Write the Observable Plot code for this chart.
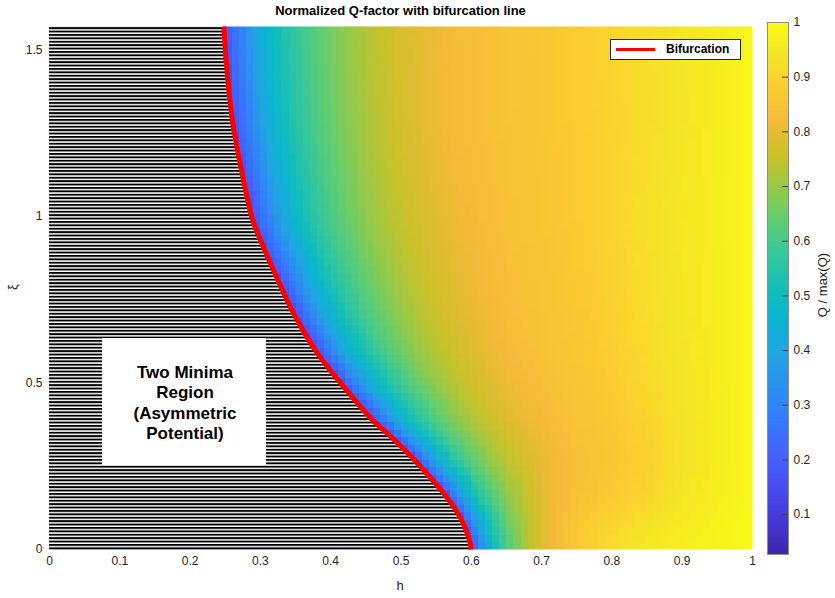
<!DOCTYPE html>
<html>
<head>
<meta charset="utf-8">
<script src="https://cdn.jsdelivr.net/npm/d3@7"></script>
<script src="https://cdn.jsdelivr.net/npm/@observablehq/plot@0.6"></script>
<style>
html, body { margin: 0; padding: 0; background: #fff; }
#wrap { position: relative; width: 835px; height: 598px; overflow: hidden;
  font-family: "Liberation Sans", Arial, Helvetica, sans-serif; color: #262626; }
.abs { position: absolute; }
#title { left: 49px; width: 703px; top: 3px; text-align: center; font-weight: bold;
  font-size: 13px; line-height: 15px; color: #000; }
#main { left: 0; top: 0; }
#cbar { left: 760px; top: 0; }
#legend { left: 610px; top: 39px; width: 131px; height: 21px; box-sizing: border-box;
  border: 1px solid #262626; background: #fff; }
#legline { left: 616px; top: 47.5px; width: 39px; height: 3px; background: #ff0000; }
#legtext { left: 666px; top: 43px; font-weight: bold; font-size: 12px; line-height: 12px; color: #000; }
.rot { transform: translate(-50%, -50%) rotate(-90deg); white-space: nowrap; font-size: 13px; line-height: 13px; }
.ctr { transform: translate(-50%, -50%); white-space: nowrap; font-size: 13px; line-height: 13px; }
</style>
</head>
<body>
<svg width="0" height="0" style="position:absolute">
  <defs>
    <pattern id="hatch" patternUnits="userSpaceOnUse" x="0" y="0" width="10" height="3.4">
      <rect x="0" y="0" width="10" height="3.4" fill="#ffffff"></rect>
      <rect x="0" y="0" width="10" height="1.9" fill="#000000"></rect>
    </pattern>
  </defs>
</svg>
<div id="wrap">
  <div id="main" class="abs"></div>
  <div id="cbar" class="abs"></div>
  <div id="title" class="abs">Normalized Q-factor with bifurcation line</div>
  <div id="legend" class="abs"></div>
  <div id="legline" class="abs"></div>
  <div id="legtext" class="abs">Bifurcation</div>
  <div class="abs rot" style="left:12px; top:287px;">ξ</div>
  <div class="abs ctr" style="left:400px; top:585px;">h</div>
  <div class="abs rot" style="left:822px; top:285px;">Q / max(Q)</div>
</div>
<script>
// ---- data ----
// bifurcation line (xi, h)
const bifXi = [0, 0.03, 0.09, 0.16, 0.26, 0.34, 0.39, 0.49, 0.59, 0.69, 0.79, 0.93, 0.99, 1.14, 1.29, 1.45, 1.5708];
const bifH  = [0.600, 0.597, 0.586, 0.564, 0.523, 0.485, 0.459, 0.418, 0.381, 0.352, 0.329, 0.300, 0.289, 0.273, 0.260, 0.252, 0.248];

// Q/max(Q) read along each row of the bifurcation line, at fractional
// positions between the line (0) and h = 1 (1)
const tCols = [0, 0.015, 0.035, 0.055, 0.08, 0.115, 0.16, 0.21, 0.27, 0.34, 0.42, 0.52, 0.65, 0.8, 1];
const qRows = [
  [0.15, 0.23, 0.31, 0.41, 0.50, 0.58, 0.66, 0.74, 0.80, 0.85, 0.89, 0.92, 0.95, 0.97, 0.99],
  [0.15, 0.23, 0.31, 0.41, 0.50, 0.58, 0.66, 0.74, 0.80, 0.85, 0.89, 0.92, 0.95, 0.97, 0.99],
  [0.15, 0.23, 0.31, 0.40, 0.49, 0.57, 0.65, 0.72, 0.78, 0.83, 0.87, 0.90, 0.93, 0.96, 0.99],
  [0.15, 0.23, 0.31, 0.39, 0.48, 0.56, 0.63, 0.70, 0.76, 0.81, 0.84, 0.87, 0.90, 0.95, 0.985],
  [0.15, 0.23, 0.30, 0.38, 0.47, 0.55, 0.62, 0.68, 0.74, 0.785, 0.82, 0.85, 0.88, 0.935, 0.985],
  [0.15, 0.23, 0.30, 0.38, 0.46, 0.54, 0.61, 0.67, 0.73, 0.775, 0.815, 0.845, 0.875, 0.93, 0.985],
  [0.15, 0.23, 0.30, 0.38, 0.46, 0.54, 0.61, 0.67, 0.73, 0.775, 0.815, 0.845, 0.875, 0.93, 0.985],
  [0.15, 0.23, 0.30, 0.38, 0.46, 0.54, 0.61, 0.67, 0.73, 0.775, 0.815, 0.845, 0.875, 0.93, 0.985],
  [0.15, 0.23, 0.30, 0.38, 0.46, 0.54, 0.61, 0.67, 0.73, 0.775, 0.815, 0.845, 0.875, 0.93, 0.985],
  [0.15, 0.23, 0.30, 0.38, 0.46, 0.54, 0.61, 0.67, 0.73, 0.775, 0.815, 0.845, 0.875, 0.93, 0.985],
  [0.15, 0.23, 0.30, 0.38, 0.46, 0.54, 0.61, 0.67, 0.73, 0.775, 0.815, 0.845, 0.875, 0.93, 0.985],
  [0.15, 0.23, 0.30, 0.38, 0.46, 0.54, 0.61, 0.67, 0.73, 0.775, 0.815, 0.845, 0.875, 0.93, 0.985],
  [0.15, 0.23, 0.30, 0.38, 0.46, 0.54, 0.61, 0.67, 0.73, 0.775, 0.815, 0.845, 0.875, 0.93, 0.985],
  [0.15, 0.23, 0.30, 0.38, 0.46, 0.54, 0.61, 0.67, 0.73, 0.78, 0.82, 0.845, 0.875, 0.925, 0.985],
  [0.15, 0.23, 0.30, 0.38, 0.46, 0.54, 0.61, 0.67, 0.73, 0.78, 0.82, 0.845, 0.875, 0.92, 0.985],
  [0.15, 0.23, 0.30, 0.38, 0.46, 0.54, 0.61, 0.67, 0.73, 0.78, 0.82, 0.845, 0.875, 0.92, 0.985],
  [0.15, 0.23, 0.30, 0.38, 0.46, 0.54, 0.61, 0.67, 0.73, 0.78, 0.82, 0.845, 0.875, 0.92, 0.985]
];

const qMin = 0.027;
const xTicks = [0, 0.1, 0.2, 0.3, 0.4, 0.5, 0.6, 0.7, 0.8, 0.9, 1];
const yTicks = [0, 0.5, 1, 1.5];
const cbTicks = [0.1, 0.2, 0.3, 0.4, 0.5, 0.6, 0.7, 0.8, 0.9, 1];
const annotationLines = ["Two Minima", "Region", "(Asymmetric", "Potential)"];

// parula colormap anchors
const parula = [
  [0.2422,0.1504,0.6603],[0.2704,0.2138,0.8346],[0.2813,0.2985,0.9397],[0.2710,0.3860,0.9898],
  [0.2006,0.4803,0.9906],[0.1716,0.5655,0.9393],[0.1288,0.6408,0.8910],[0.0433,0.7039,0.8242],
  [0.0770,0.7468,0.7224],[0.2061,0.7808,0.6065],[0.3671,0.8021,0.4563],[0.5886,0.7913,0.2833],
  [0.7945,0.7554,0.1570],[0.9523,0.7284,0.2237],[0.9938,0.7974,0.1974],[0.9578,0.8963,0.1507],
  [0.9769,0.9839,0.0805]
].map(([r, g, b]) => d3.rgb(r * 255, g * 255, b * 255).formatHex());
const parulaInterp = d3.piecewise(d3.interpolateRgb, parula);

// ---- tables built from the arrays ----
const bif = bifXi.map((xi, i) => ({xi, h: bifH[i]}));
const field = bifXi.flatMap((xi, j) =>
  tCols.map((t, k) => ({xi, h: bifH[j] + t * (1 - bifH[j]), q: qRows[j][k]})));
const annot = [{x1: 0.0754, x2: 0.3087, y1: 0.2523, y2: 0.6336, cx: 0.1927, cy: 0.443,
  text: annotationLines.join("\n")}];

const font = '"Liberation Sans", Arial, Helvetica, sans-serif';
const colorScale = {type: "linear", domain: [qMin, 1], interpolate: parulaInterp, clamp: true};

const main = Plot.plot({
  width: 760, height: 598,
  marginLeft: 49, marginRight: 8, marginTop: 26, marginBottom: 49,
  style: {fontFamily: font, fontSize: "12px", color: "#262626", background: "transparent", overflow: "visible"},
  x: {domain: [0, 1], label: null},
  y: {domain: [0, Math.PI / 2], label: null},
  color: colorScale,
  marks: [
    Plot.raster(field, {x: "h", y: "xi", fill: "q", interpolate: "barycentric",
      x1: 0, x2: 1, y1: 0, y2: Math.PI / 2, width: 100, height: 70, imageRendering: "pixelated"}),
    Plot.areaX(bif, {y: "xi", x1: 0, x2: "h", fill: "url(#hatch)", curve: "catmull-rom"}),
    Plot.line(bif, {x: "h", y: "xi", stroke: "#ff0000", strokeWidth: 5, curve: "catmull-rom", strokeLinecap: "butt"}),
    Plot.rect(annot, {x1: "x1", x2: "x2", y1: "y1", y2: "y2", fill: "#ffffff"}),
    Plot.text(annot, {x: "cx", y: "cy", text: "text", fontWeight: "bold", fontSize: 17, lineHeight: 1.21, fill: "#000"}),
    Plot.axisX({ticks: xTicks, tickSize: 0, tickPadding: 7, tickFormat: d => String(d), label: null}),
    Plot.axisY({ticks: yTicks, tickSize: 0, tickPadding: 7, tickFormat: d => String(d), label: null})
  ]
});
document.getElementById("main").appendChild(main);

// colorbar ramp (legend)
const nRamp = 240;
const ramp = d3.range(nRamp).map(i => {
  const a = qMin + (1 - qMin) * i / nRamp, b = qMin + (1 - qMin) * (i + 1) / nRamp;
  return {a, b, v: (a + b) / 2};
});
const cbar = Plot.plot({
  width: 75, height: 598,
  marginLeft: 7, marginRight: 47, marginTop: 22, marginBottom: 44,
  style: {fontFamily: font, fontSize: "12px", color: "#262626", background: "transparent", overflow: "visible"},
  x: {domain: [0, 1], axis: null},
  y: {domain: [qMin, 1], axis: null},
  color: colorScale,
  marks: [
    Plot.rect(ramp, {x1: 0, x2: 1, y1: "a", y2: "b", fill: "v", shapeRendering: "crispEdges"}),
    Plot.ruleY(cbTicks.filter(d => d < 1), {x1: 0.72, x2: 1, stroke: "#404040", strokeWidth: 1}),
    Plot.frame({stroke: "#8c8c8c"}),
    Plot.axisY({anchor: "right", ticks: cbTicks, tickSize: 0, tickPadding: 5, tickFormat: d => String(d), label: null})
  ]
});
document.getElementById("cbar").appendChild(cbar);
</script>
</body>
</html>
